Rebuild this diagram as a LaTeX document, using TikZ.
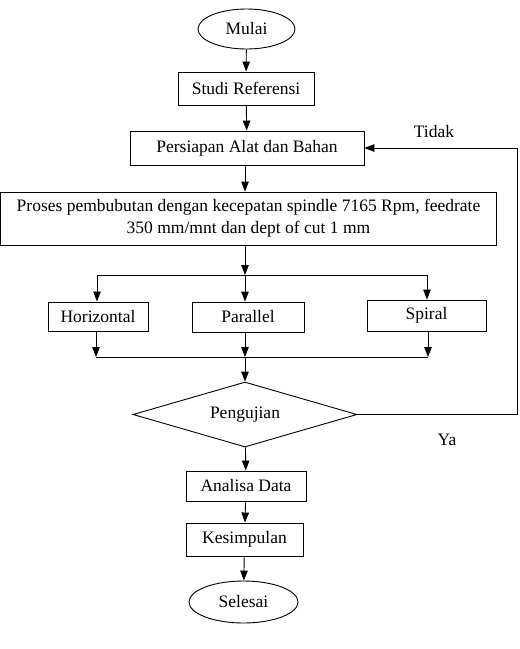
\documentclass[tikz,border=0pt]{standalone}
\usepackage{fontspec}
\setmainfont{Liberation Serif}
\usetikzlibrary{shapes.geometric,arrows.meta}
\tikzset{
  terminal/.style={
    ellipse,
    draw,
    inner sep=1pt,
    minimum width={#1},
    minimum height={40},
  },
  step box/.style={
    draw,
    inner sep=2pt,
    minimum width={#1},
    minimum height={31},
  },
  decision/.style={
    diamond,
    draw,
    aspect=3.45,
    inner sep=0pt,
    minimum width={224},
    minimum height={65},
  },
  flow/.style={
    -{Triangle[length=10pt,width=7.5pt]},
  },
  answer/.style={
    inner sep=0pt,
  }
}

\begin{document}
\begin{tikzpicture}[x=1pt,y=-1pt,line width=0.9pt,
    font=\fontsize{17.5}{22}\selectfont]
        \useasboundingbox (0,0) rectangle (520,649);

        \node [terminal=97] (mulai) at (246.5,29) {Mulai};
        \node [step box=136, minimum height=33] (studi) at (246,88.5) {Studi Referensi};
        \node [step box=234, minimum height=34] (persiapan) at (247,148) {Persiapan Alat dan Bahan};
        \node [step box=496, minimum height=53, align=center] (proses) at (248.5,218.5)
          {Proses pembubutan dengan kecepatan spindle 7165 Rpm, feedrate\\350 mm/mnt dan dept of cut 1 mm};

        \node [step box=100, minimum height=29] (horizontal) at (98,316.5) {Horizontal};
        \node [step box=112, minimum height=30] (parallel) at (248,317) {Parallel};
        \node [step box=119] (spiral) at (426.5,315.5) {Spiral};

        \node [decision] (pengujian) at (245,414.5) {Pengujian};
        \node [step box=120, minimum height=30] (analisa) at (246,486) {Analisa Data};
        \node [step box=117, minimum height=33] (kesimpulan) at (244.5,539.5) {Kesimpulan};
        \node [terminal=109, minimum height=42] (selesai) at (243.5,602) {Selesai};

        \node [answer] (tidak) at (434,132) {Tidak};
        \node [answer] (ya) at (447,440) {Ya};

        % branching
        \coordinate (split) at (245,275);
        \coordinate (splitL) at (97,275);
        \coordinate (splitR) at (427,275);
        \coordinate (merge) at (245,357);
        \coordinate (mergeL) at (96,357);
        \coordinate (mergeR) at (428,357);
        \coordinate (loop) at (517,0);

        \draw [flow] (mulai) -- (studi);
        \draw [flow] (studi) -- (persiapan);
        \draw [flow] (persiapan.south -| split) -- (proses.north -| split);
        \draw [flow] (proses.south -| split) -- (split);
        \draw (splitL) -- (splitR);
        \draw [flow] (splitL) -- (horizontal.north -| splitL);
        \draw [flow] (split) -- (parallel.north -| split);
        \draw [flow] (splitR) -- (spiral.north -| splitR);
        \draw [flow] (horizontal.south -| mergeL) -- (mergeL);
        \draw [flow] (parallel.south -| merge) -- (merge);
        \draw [flow] (spiral.south -| mergeR) -- (mergeR);
        \draw (mergeL) -- (mergeR);
        \draw [flow] (merge) -- (pengujian.north);
        \draw [flow] (pengujian.east) -- (pengujian.east -| loop)
          -- (persiapan.east -| loop) -- (persiapan.east);
        \draw [flow] (pengujian) -- (analisa);
        \draw [flow] (analisa) -- (kesimpulan);
        \draw [flow] (kesimpulan) -- (selesai);
      \end{tikzpicture}
\end{document}
